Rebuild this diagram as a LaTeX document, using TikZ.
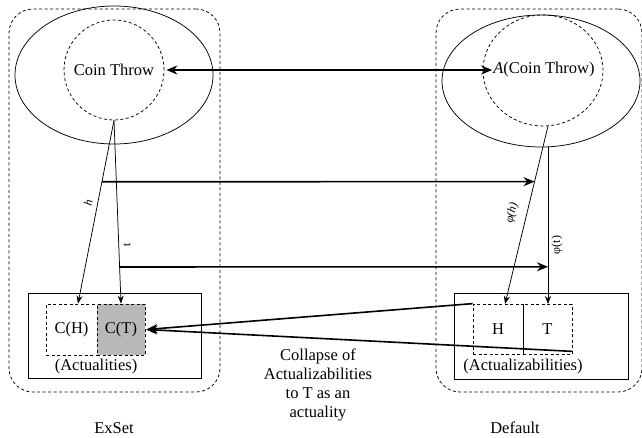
\documentclass[tikz,border=0pt]{standalone}
\usepackage{fontspec}
\setmainfont{Liberation Serif}
\usetikzlibrary{shapes.geometric,arrows.meta,calc}
\begin{document}
\begin{tikzpicture}[x=1pt,y=-1pt,
  txt/.style={font=\fontsize{16.5}{19}\selectfont, inner sep=0pt},
  small/.style={font=\fontsize{12}{14}\selectfont, inner sep=0pt},
  dsh/.style={draw, dash pattern=on 3pt off 2.5pt, line width=0.75pt},
  setbox/.style={dsh, rectangle, rounded corners=24pt, inner sep=0pt},
  ell/.style={draw, ellipse, line width=0.75pt, inner sep=0pt},
  dcirc/.style={dsh, ellipse, inner sep=0pt},
  solidbox/.style={draw, rectangle, line width=0.75pt, inner sep=0pt},
  cellbox/.style={dsh, rectangle, inner sep=0pt, font=\fontsize{16.5}{19}\selectfont},
  thin/.style={line width=0.75pt, -{Stealth[length=8pt,width=6pt]}},
  thick/.style={line width=1.6pt, -{Stealth[length=11pt,width=9pt]}},
  dthick/.style={line width=1.6pt, {Stealth[length=11pt,width=9pt]}-{Stealth[length=11pt,width=9pt]}}
]
\useasboundingbox (0,0) rectangle (642,437);

% outer dashed sets
\node[setbox, minimum width=211pt, minimum height=383pt] (lset) at (114.5,200.5) {};
\node[setbox, minimum width=206pt, minimum height=383pt] (rset) at (539,200.5) {};

% ellipses and dashed circles
\node[ell, minimum width=198pt, minimum height=138pt] (lell) at (114,75) {};
\node[ell, minimum width=198pt, minimum height=132pt] (rell) at (541,81) {};
\node[dcirc, minimum width=100pt, minimum height=100pt] (lcirc) at (114,70) {};
\node[dcirc, minimum width=120pt, minimum height=111pt] (rcirc) at (543,70.5) {};

\node[txt] (ct) at (114,70) {Coin Throw};
\node[txt] (act) at (544,70) {{\itshape A}(Coin Throw)};

\draw[dthick] ([xshift=2pt]lcirc.east) -- ([xshift=-1pt]act.west);

% bottom boxes
\node[solidbox, minimum width=173pt, minimum height=85pt] (lbox) at (114.5,335.5) {};
\node[cellbox, minimum width=51pt, minimum height=51pt] (CH) at (71.5,329.5) {C(H)};
\node[cellbox, fill=black!28, minimum width=48pt, minimum height=51pt] (CT) at (121,329.5) {C(T)};
\node[txt] (actl) at (96,367) {(Actualities)};

\node[solidbox, minimum width=174pt, minimum height=86pt] (rbox) at (541,336) {};
\node[cellbox, minimum width=50pt, minimum height=50pt] (H) at (498,329) {H};
\node[cellbox, minimum width=49pt, minimum height=50pt] (T) at (547.5,329) {T};
\node[txt] (actz) at (523,367) {(Actualizabilities)};

% points
\coordinate (lbot) at (lcirc.south);
\coordinate (rbot) at (548,126);
\coordinate (rvtop) at (548,147);
\coordinate (hend) at ([xshift=6.5pt]CH.north);
\coordinate (phend) at (505,304);

% mapping lines
\draw[thin] (lbot) -- (hend);
\draw[thin] (lbot) -- (CT.north);
\draw[thin] (rbot) -- (phend);
\draw[thin] (rvtop) -- (548,304);

% horizontal arrows
\draw[thick] ($(lbot)!0.335!(hend)$) -- ($(rbot)!0.3125!(phend)$);
\draw[thick] ($(lbot)!0.80!(CT.north)$) -- ($(rvtop)!0.763!(548,304)$);

% labels
\node[small, rotate=79] (lh) at (88,203) {\itshape h};
\node[small, rotate=92] (lt) at (127,245) {t};
\node[small, rotate=76] (lph) at (512,213) {\itshape φ(h)};
\node[small, rotate=90] (lpt) at (557,245) {φ(t)};

% collapse arrows
\draw[thick] (H.north west) -- ([xshift=1pt]CT.east);
\draw[thick] ([yshift=3pt]T.south east) -- ([xshift=1pt]CT.east);

\node[txt, align=center] (coll) at (318,385) {Collapse of\\Actualizabilities\\to T as an\\actuality};

\node[txt] (exset) at (114,428) {ExSet};
\node[txt] (def) at (515,428) {Default};
\end{tikzpicture}
\end{document}
